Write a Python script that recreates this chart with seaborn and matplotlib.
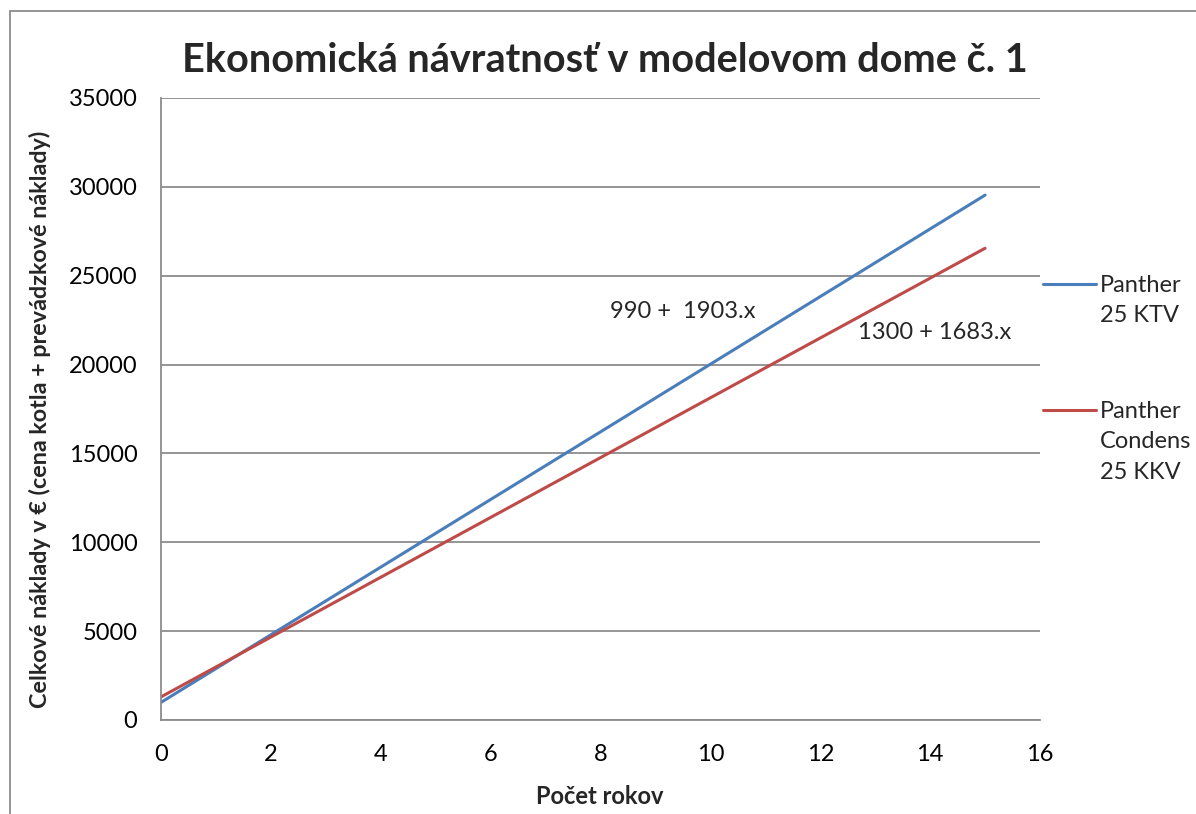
import matplotlib
matplotlib.use("Agg")
import matplotlib.pyplot as plt
import seaborn as sns
import pandas as pd
from matplotlib.patches import Rectangle
from matplotlib.lines import Line2D

years = list(range(16))
ktv = [990, 2893, 4796, 6699, 8602, 10505, 12408, 14311, 16214, 18117,
       20020, 21923, 23826, 25729, 27632, 29535]
kkv = [1300, 2983, 4666, 6349, 8032, 9715, 11398, 13081, 14764, 16447,
       18130, 19813, 21496, 23179, 24862, 26545]
series_names = ["Panther\n25 KTV", "Panther\nCondens\n25 KKV"]
colors = ["#4A7EBB", "#BE4B48"]
title = "Ekonomická návratnosť v modelovom dome č. 1"
xlabel = "Počet rokov"
ylabel = "Celkové náklady v € (cena kotla + prevádzkové náklady)"
ann_texts = ["990 +  1903.x", "1300 + 1683.x"]

df = pd.DataFrame({
    "Rok": years * 2,
    "Náklady": ktv + kkv,
    "Séria": [series_names[0]] * len(years) + [series_names[1]] * len(years),
})

sns.set_theme(style="white")
plt.rcParams["font.family"] = ["Lato", "DejaVu Sans"]

W, H = 1196, 814
fig = plt.figure(figsize=(W / 100, H / 100), dpi=100)
ax = fig.add_axes([161/W, 1 - 720/H, (1040-161)/W, (720-98)/H])

sns.lineplot(data=df, x="Rok", y="Náklady", hue="Séria", palette=colors,
             linewidth=2.2, ax=ax, legend=False)

ax.set_xlim(0, 16)
ax.set_ylim(0, 35000)
ax.set_xticks(range(0, 17, 2))
ax.set_yticks(range(0, 35001, 5000))
ax.yaxis.grid(True, color="#8C8C8C", linewidth=1.3)
ax.set_axisbelow(True)
for s in ["top", "right"]:
    ax.spines[s].set_visible(False)
for s in ["left", "bottom"]:
    ax.spines[s].set_color("#8C8C8C")
    ax.spines[s].set_linewidth(1.3)
ax.tick_params(axis="both", labelsize=17, colors="black", length=0)
ax.tick_params(axis="x", pad=17)
ax.tick_params(axis="y", pad=17)

ax.set_xlabel("")
ax.set_ylabel("")
fig.text(600/W, 1 - 797/H, xlabel, fontsize=17, fontweight="bold",
         ha="center", va="center")
fig.text(40/W, 1 - 419/H, ylabel, fontsize=16.8, fontweight="bold",
         ha="center", va="center", rotation=90)
fig.text(605/W, 1 - 60/H, title, fontsize=28.5, fontweight="bold",
         ha="center", va="center")

ax.text(9.5, 23000, ann_texts[0], fontsize=17, ha="center", va="center")
ax.text(14.09, 21780, ann_texts[1], fontsize=17, ha="center", va="center")

# legend
leg_y = [284, 410]
for name, col, yy in zip(series_names, colors, leg_y):
    fig.add_artist(Line2D([1043/W, 1096/W], [1 - yy/H, 1 - yy/H],
                          transform=fig.transFigure, color=col, linewidth=2.2))
    fig.text(1100/W, 1 - (yy - 9)/H, name, fontsize=17, ha="left", va="top",
             linespacing=1.55)

fig.add_artist(Rectangle((10/W, -0.05), 1.2, 1 - 11/H + 0.05,
                         transform=fig.transFigure, fill=False,
                         edgecolor="#8C8C8C", linewidth=1.3))

fig.savefig("out.png", dpi=100)
